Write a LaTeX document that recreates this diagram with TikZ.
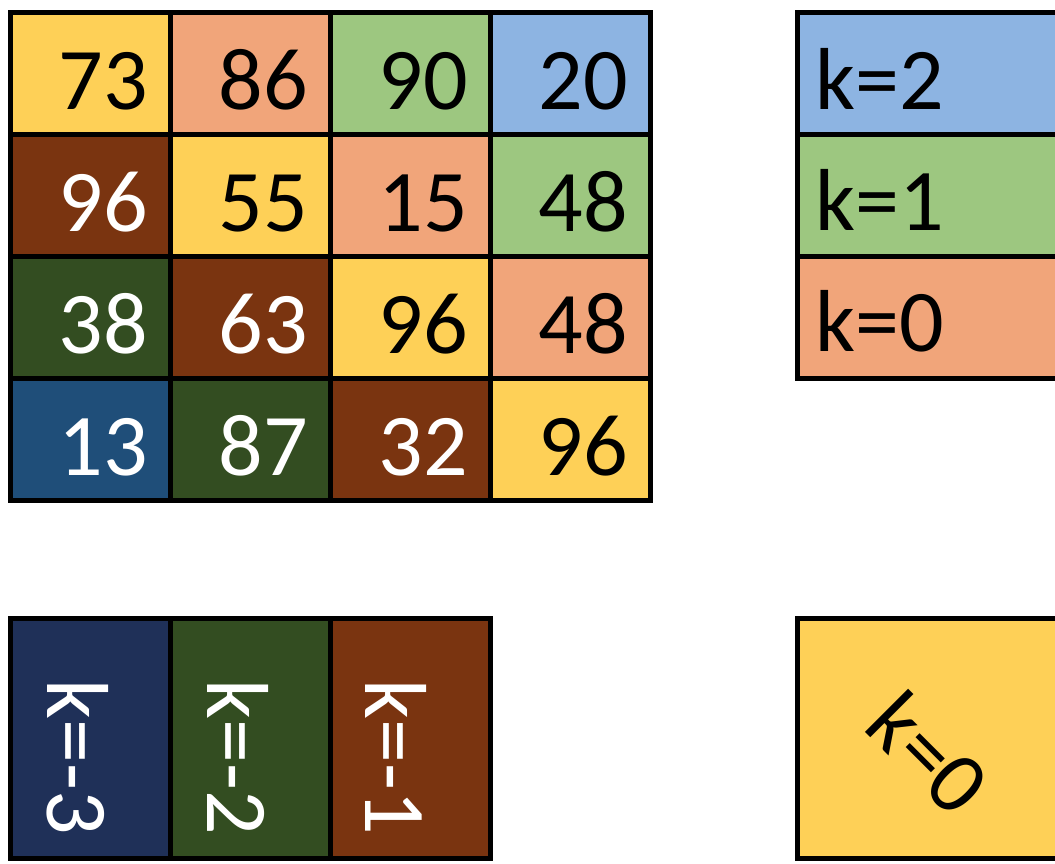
\documentclass[tikz,border=0pt]{standalone}
\usepackage{fontspec}
\setmainfont{Carlito}
\usetikzlibrary{calc}
\definecolor{cyel}{RGB}{254,208,87}
\definecolor{cpeach}{RGB}{241,165,122}
\definecolor{cgreen}{RGB}{157,199,128}
\definecolor{cblue}{RGB}{141,180,226}
\definecolor{cbrown}{RGB}{122,52,16}
\definecolor{cdkgreen}{RGB}{51,77,33}
\definecolor{csteel}{RGB}{31,78,121}
\definecolor{cnavy}{RGB}{31,48,88}
\newcommand{\gridcell}[6]{%
  \node[cellbox, fill=#4] (#1) at ({90+160*(#2-1)},{73+122*(#3-1)}) {};
  \node[bigtext, text=#5, anchor=base east] (#1t) at ($(#1.center)+(58,36)$) {#6};
}
\begin{document}
\begin{tikzpicture}[x=1pt,y=-1pt,
  cellbox/.style={draw=black, line width=5pt, minimum width=160pt, minimum height=122pt, inner sep=0pt},
  legbox/.style={draw=black, line width=5pt, minimum width=263pt, minimum height=122pt, inner sep=0pt},
  colbox/.style={draw=black, line width=5pt, minimum width=160pt, minimum height=240pt, inner sep=0pt},
  bigbox/.style={draw=black, line width=5pt, minimum width=263pt, minimum height=240pt, inner sep=0pt},
  bigtext/.style={font=\fontsize{88}{100}\selectfont, inner sep=0pt}]
\useasboundingbox (0,0) rectangle (1055,863);
\clip (0,0) rectangle (1055,863);
% 4x4 grid
\gridcell{c11}{1}{1}{cyel}{black}{73}
\gridcell{c12}{2}{1}{cpeach}{black}{86}
\gridcell{c13}{3}{1}{cgreen}{black}{90}
\gridcell{c14}{4}{1}{cblue}{black}{20}
\gridcell{c21}{1}{2}{cbrown}{white}{96}
\gridcell{c22}{2}{2}{cyel}{black}{55}
\gridcell{c23}{3}{2}{cpeach}{black}{15}
\gridcell{c24}{4}{2}{cgreen}{black}{48}
\gridcell{c31}{1}{3}{cdkgreen}{white}{38}
\gridcell{c32}{2}{3}{cbrown}{white}{63}
\gridcell{c33}{3}{3}{cyel}{black}{96}
\gridcell{c34}{4}{3}{cpeach}{black}{48}
\gridcell{c41}{1}{4}{csteel}{white}{13}
\gridcell{c42}{2}{4}{cdkgreen}{white}{87}
\gridcell{c43}{3}{4}{cbrown}{white}{32}
\gridcell{c44}{4}{4}{cyel}{black}{96}
% legend top right
\node[legbox, fill=cblue] (l2) at (928.5,73) {};
\node[legbox, fill=cgreen] (l1) at (928.5,195) {};
\node[legbox, fill=cpeach] (l0) at (928.5,317) {};
\node[bigtext, anchor=base west] (l2t) at ($(l2.west)+(21,36)$) {k=2};
\node[bigtext, anchor=base west] (l1t) at ($(l1.west)+(21,35)$) {k=1};
\node[bigtext, anchor=base west] (l0t) at ($(l0.west)+(21,34)$) {k=0};
% bottom left columns
\node[colbox, fill=cnavy] (m3) at (90,738) {};
\node[colbox, fill=cdkgreen] (m2) at (250,738) {};
\node[colbox, fill=cbrown] (m1) at (410,738) {};
\node[bigtext, text=white, rotate=-90, anchor=base] (m3t) at ($(m3.west)+(40,19)$) {k=-3};
\node[bigtext, text=white, rotate=-90, anchor=base] (m2t) at ($(m2.west)+(40,19)$) {k=-2};
\node[bigtext, text=white, rotate=-90, anchor=base] (m1t) at ($(m1.west)+(38,19)$) {k=-1};
% bottom right diagonal
\node[bigbox, fill=cyel] (d0) at (928.5,738) {};
\node[bigtext, rotate=-45] (d0t) at ($(d0.center)+(0,15)$) {k=0};
\end{tikzpicture}
\end{document}
